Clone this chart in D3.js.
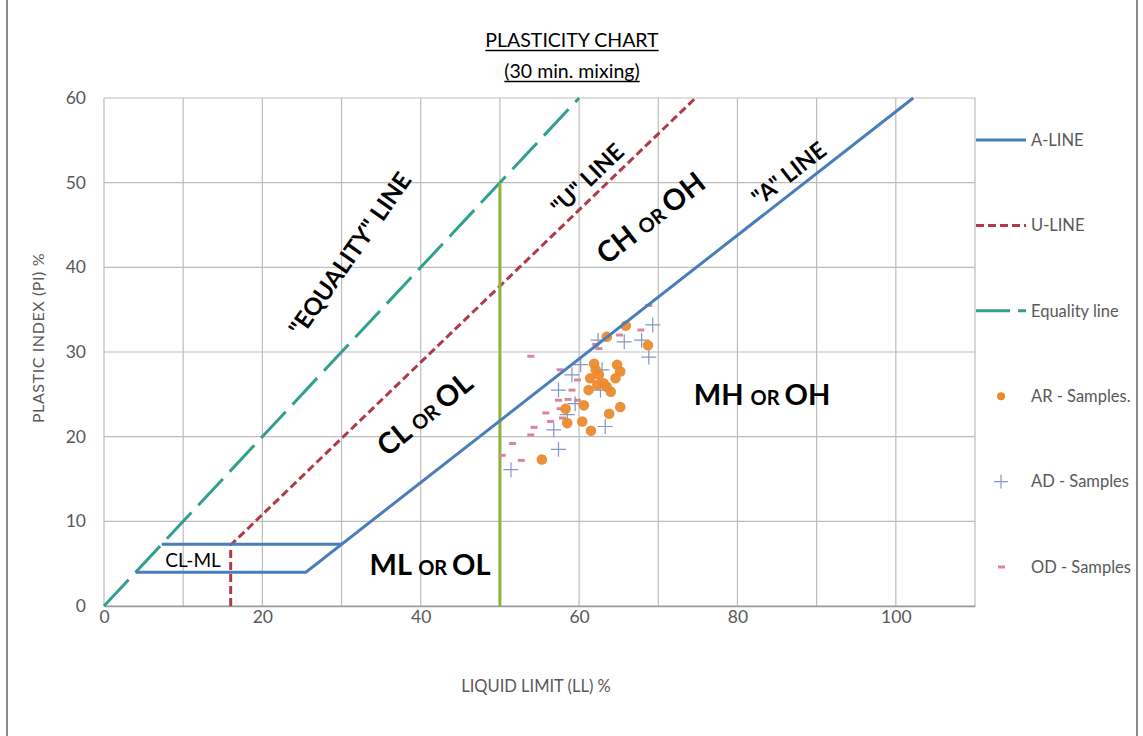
<!DOCTYPE html>
<html>
<head>
<meta charset="utf-8">
<script src="https://cdn.jsdelivr.net/npm/d3@7"></script>
<style>
  body { margin: 0; background: #fff; }
  text { font-family: Lato, "Open Sans", sans-serif; }
</style>
</head>
<body>
<script>
/* CONSTANTS AND GLOBALS */
const width = 1143;
const height = 736;
const margin = { top: 98, bottom: 130, left: 104, right: 168 };

/* DATA */
// axis ticks
const llTicks = [0, 20, 40, 60, 80, 100];
const piTicks = [0, 10, 20, 30, 40, 50, 60];
const llGrid = [0, 10, 20, 30, 40, 50, 60, 70, 80, 90, 100, 110];

// reference lines (LL, PI)
const aLineLL = [4, 25.5, 102.2];
const aLinePI = [4, 4, 60];
const aStepLL = [7.3, 30];
const aStepPI = [7.3, 7.3];
const uLineLL = [16, 16, 74.7];
const uLinePI = [0, 7.2, 60];
const eqLineLL = [0, 60];
const eqLinePI = [0, 60];
const ll50LL = [50, 50];
const ll50PI = [0, 50];

// samples
const arLL = [65.9, 63.5, 68.7, 61.9, 64.8, 65.2, 62.1, 64.6, 61.4, 62.5, 63.1, 62.3, 63.5, 61.2, 64.0, 60.6, 65.2, 63.8, 58.3, 58.5, 60.4, 61.5, 55.3];
const arPI = [33.1, 31.8, 30.8, 28.6, 28.5, 27.7, 27.9, 26.9, 26.9, 27.3, 26.3, 26.1, 25.9, 25.5, 25.3, 23.7, 23.5, 22.7, 23.3, 21.6, 21.8, 20.7, 17.3];
const adLL = [69.3, 65.7, 67.9, 68.8, 62.4, 60.2, 59.1, 62.9, 62.7, 57.4, 59.5, 58.5, 56.8, 63.3, 57.4, 51.4];
const adPI = [33.2, 31.2, 31.4, 29.4, 31.4, 28.5, 27.3, 27.9, 25.5, 25.5, 23.9, 22.6, 20.8, 21.2, 18.5, 16.1];
const odLL = [68.8, 65.1, 67.8, 62.1, 62.5, 53.9, 59.8, 59.1, 57.4, 58.6, 59.8, 57.6, 55.8, 56.4, 57.9, 54.3, 53.9, 51.6, 50.3, 52.7, 57.6];
const odPI = [35.5, 32.0, 32.6, 30.9, 30.4, 29.5, 26.7, 25.5, 24.3, 24.4, 24.3, 23.3, 22.8, 21.8, 22.2, 21.1, 20.2, 19.2, 17.8, 17.2, 27.9];

const legendNames = ["A-LINE", "U-LINE", "Equality line", "AR - Samples.", "AD - Samples", "OD - Samples"];

const blue = "#4a7ebb", red = "#b03a48", teal = "#31a08f", green = "#8db33a",
      orange = "#eb8a2e", plusCol = "#8595c4", pink = "#d9869c";

const zip = (a, b) => a.map((v, i) => [v, b[i]]);

/* SCALES */
const x = d3.scaleLinear().domain([0, 110]).range([margin.left, width - margin.right]);
const y = d3.scaleLinear().domain([0, 60]).range([height - margin.bottom, margin.top]);

const svg = d3.select("body").append("svg")
    .attr("width", width)
    .attr("height", height);

// outer frame
svg.append("line").attr("x1", 7).attr("x2", 7).attr("y1", 0).attr("y2", height)
    .attr("stroke", "#8c8c8c").attr("stroke-width", 2);
svg.append("line").attr("x1", 1137).attr("x2", 1137).attr("y1", 0).attr("y2", height)
    .attr("stroke", "#8c8c8c").attr("stroke-width", 2);

//GRID
svg.append("g").selectAll("line").data(llGrid).enter().append("line")
    .attr("x1", d => x(d)).attr("x2", d => x(d))
    .attr("y1", y(0)).attr("y2", y(60))
    .attr("stroke", "#bdbdbd").attr("stroke-width", 1.2);
svg.append("g").selectAll("line").data(piTicks).enter().append("line")
    .attr("x1", x(0)).attr("x2", x(110))
    .attr("y1", d => y(d)).attr("y2", d => y(d))
    .attr("stroke", "#bdbdbd").attr("stroke-width", 1.2);

//AXES
const xAxis = svg.append("g")
    .attr("transform", "translate(0," + y(0) + ")")
    .call(d3.axisBottom(x).tickValues(llTicks).tickSize(0).tickPadding(5));
const yAxis = svg.append("g")
    .attr("transform", "translate(" + x(0) + ",0)")
    .call(d3.axisLeft(y).tickValues(piTicks).tickSize(0).tickPadding(18));
[xAxis, yAxis].forEach(g => {
    g.select(".domain").attr("stroke", "#9a9a9a").attr("stroke-width", 1.5);
    g.selectAll("text").attr("font-size", 17.5).attr("fill", "#595959")
        .style("font-family", "Lato, sans-serif");
});
yAxis.select(".domain").remove();

svg.append("text")
    .attr("x", 536).attr("y", 692)
    .attr("text-anchor", "middle")
    .attr("font-size", 16.5).attr("fill", "#595959")
    .text("LIQUID LIMIT (LL) %");
svg.append("text")
    .attr("transform", "translate(44,338) rotate(-90)")
    .attr("text-anchor", "middle")
    .attr("font-size", 16).attr("fill", "#595959")
    .attr("letter-spacing", 0.6)
    .text("PLASTIC INDEX (PI) %");

//TITLE
const titles = [["PLASTICITY CHART", 47], ["(30 min. mixing)", 78]];
titles.forEach(t => {
    const tx = svg.append("text")
        .attr("x", 572).attr("y", t[1])
        .attr("text-anchor", "middle")
        .attr("font-size", 19.5).attr("fill", "#000")
        .text(t[0]);
    const w = tx.node().getComputedTextLength();
    svg.append("line")
        .attr("x1", 572 - w / 2).attr("x2", 572 + w / 2)
        .attr("y1", t[1] + 3.5).attr("y2", t[1] + 3.5)
        .attr("stroke", "#000").attr("stroke-width", 1.5);
});

//LINES
const line = d3.line().x(d => x(d[0])).y(d => y(d[1]));

svg.append("path").datum(zip(eqLineLL, eqLinePI))
    .attr("d", line).attr("fill", "none")
    .attr("stroke", teal).attr("stroke-width", 3)
    .attr("stroke-dasharray", "36,10");
svg.append("path").datum(zip(uLineLL, uLinePI))
    .attr("d", line).attr("fill", "none")
    .attr("stroke", red).attr("stroke-width", 3)
    .attr("stroke-dasharray", "8,4");
svg.append("path").datum(zip(ll50LL, ll50PI))
    .attr("d", line).attr("fill", "none")
    .attr("stroke", green).attr("stroke-width", 3);

//SAMPLES
svg.append("g").selectAll("rect").data(zip(odLL, odPI)).enter().append("rect")
    .attr("x", d => x(d[0]) - 3.5).attr("y", d => y(d[1]) - 1.5)
    .attr("width", 7).attr("height", 3)
    .attr("fill", pink);

svg.append("g").selectAll("path").data(zip(adLL, adPI)).enter().append("path")
    .attr("d", d => {
        const cx = x(d[0]), cy = y(d[1]);
        return "M" + (cx - 7.5) + "," + cy + "H" + (cx + 7.5) + "M" + cx + "," + (cy - 7.5) + "V" + (cy + 7.5);
    })
    .attr("stroke", plusCol).attr("stroke-width", 1.2).attr("fill", "none");

svg.append("g").selectAll("circle").data(zip(arLL, arPI)).enter().append("circle")
    .attr("cx", d => x(d[0])).attr("cy", d => y(d[1]))
    .attr("r", 5.3)
    .attr("fill", orange).attr("fill-opacity", 0.95);

// A-line on top
[zip(aLineLL, aLinePI), zip(aStepLL, aStepPI)].forEach(pts => {
    svg.append("path").datum(pts)
        .attr("d", line).attr("fill", "none")
        .attr("stroke", blue).attr("stroke-width", 3);
});

//REGION LABELS
function label(px, py, rot, parts, size) {
    const t = svg.append("text")
        .attr("transform", "translate(" + px + "," + py + ") rotate(" + rot + ")")
        .attr("text-anchor", "middle")
        .attr("fill", "#000")
        .attr("font-weight", "bold");
    parts.forEach(p => {
        t.append("tspan").attr("font-size", p[1] || size).text(p[0]);
    });
}
label(431, 422, -39, [["CL "], ["OR ", 20], ["OL"]], 29);
label(657, 226, -38, [["CH "], ["OR ", 20], ["OH"]], 29);
label(762, 405, 0, [["MH "], ["OR ", 20], ["OH"]], 29);
label(430, 575, 0, [["ML "], ["OR ", 20], ["OL"]], 29);
label(357, 259, -55, [["\"EQUALITY\" LINE"]], 24);
label(593, 185, -44, [["\"U\" LINE"]], 23);
label(794, 180, -38, [["\"A\" LINE"]], 23);

svg.append("text")
    .attr("x", 193).attr("y", 567)
    .attr("text-anchor", "middle")
    .attr("font-size", 19).attr("fill", "#000")
    .text("CL-ML");

//LEGEND
const legY = d3.scalePoint().domain(legendNames).range([140, 567]);
const leg = svg.append("g");
leg.selectAll("text").data(legendNames).enter().append("text")
    .attr("x", 1031).attr("y", d => legY(d))
    .attr("dy", "0.35em")
    .attr("font-size", 16.5).attr("fill", "#595959")
    .text(d => d);

leg.append("line").attr("x1", 976).attr("x2", 1026)
    .attr("y1", legY("A-LINE")).attr("y2", legY("A-LINE"))
    .attr("stroke", blue).attr("stroke-width", 3);
leg.append("line").attr("x1", 976).attr("x2", 1026)
    .attr("y1", legY("U-LINE")).attr("y2", legY("U-LINE"))
    .attr("stroke", red).attr("stroke-width", 3).attr("stroke-dasharray", "8,4");
leg.append("line").attr("x1", 976).attr("x2", 1026)
    .attr("y1", legY("Equality line")).attr("y2", legY("Equality line"))
    .attr("stroke", teal).attr("stroke-width", 3).attr("stroke-dasharray", "34,8");
leg.append("circle").attr("cx", 1001).attr("cy", legY("AR - Samples."))
    .attr("r", 4).attr("fill", orange);
leg.append("path")
    .attr("d", "M994," + legY("AD - Samples") + "H1008M1001," + (legY("AD - Samples") - 7) + "V" + (legY("AD - Samples") + 7))
    .attr("stroke", plusCol).attr("stroke-width", 1.2);
leg.append("rect").attr("x", 998).attr("y", legY("OD - Samples") - 1.5)
    .attr("width", 7).attr("height", 3).attr("fill", pink);
</script>
</body>
</html>
